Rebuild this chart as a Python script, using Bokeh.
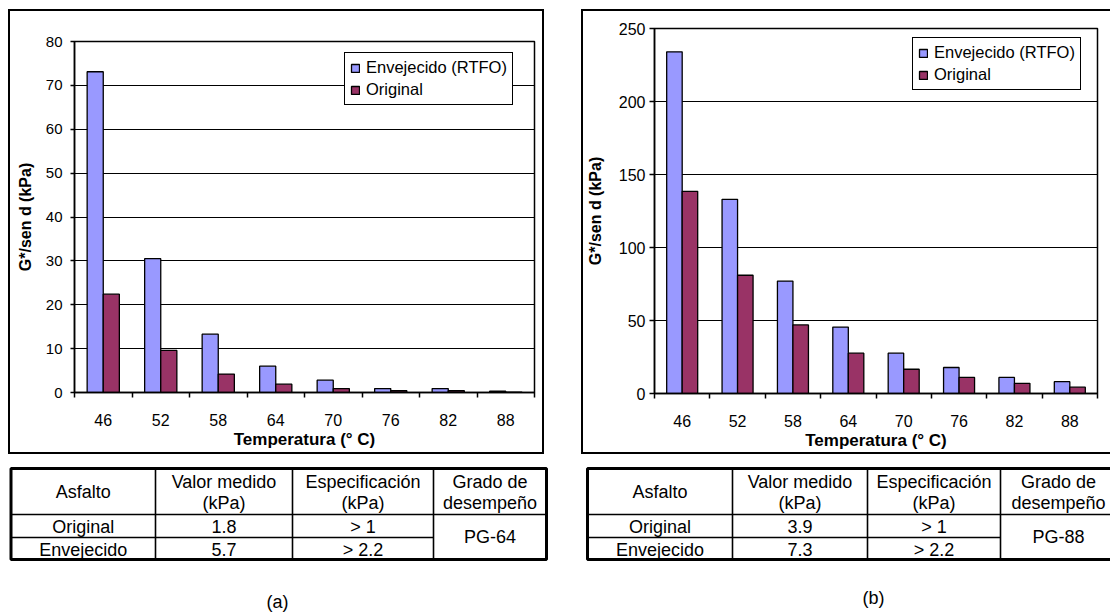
from bokeh.plotting import figure
from bokeh.models import (Range1d, FixedTicker, Legend, LegendItem,
                          ColumnDataSource, Spacer)
from bokeh.layouts import row, column
from bokeh.embed import file_html
from bokeh.resources import INLINE
from bokeh.core.properties import value

FONT = "Liberation Sans"

# ---------------- data ----------------
temperatures = ["46", "52", "58", "64", "70", "76", "82", "88"]

a_aged = [73.1, 30.5, 13.3, 6.0, 2.8, 0.9, 0.9, 0.3]
a_orig = [22.4, 9.6, 4.2, 1.9, 0.9, 0.4, 0.4, 0.1]

b_aged = [234.0, 133.0, 77.0, 45.5, 27.6, 17.8, 11.0, 8.1]
b_orig = [138.5, 81.0, 47.0, 27.6, 16.6, 11.0, 7.0, 4.3]

series_labels = ["Envejecido (RTFO)", "Original"]

table_header_l1 = ["Valor medido", "Especificación", "Grado de"]
table_header_l2 = ["(kPa)", "(kPa)", "desempeño"]
table_first_header = "Asfalto"
asphalts = ["Original", "Envejecido"]
specification = ["> 1", "> 2.2"]
a_measured = ["1.8", "5.7"]
b_measured = ["3.9", "7.3"]
a_grade = "PG-64"
b_grade = "PG-88"
captions = ["(a)", "(b)"]

AGED_COLOR = "#9999FF"
ORIG_COLOR = "#993366"


def chart(aged, orig, ymax, ystep, width, height, borders, legend_loc,
          ylab_size, ylab_standoff, ytick_out, ytitle_standoff):
    bl, br, bt, bb = borders
    n = len(temperatures)
    p = figure(width=width, height=height, x_range=Range1d(0, n),
               y_range=Range1d(0, ymax), output_backend="svg",
               toolbar_location=None, min_border_left=bl, min_border_right=br,
               min_border_top=bt, min_border_bottom=bb,
               styles={"outline": "2px solid black", "outline-offset": "0px"})
    p.background_fill_color = "white"
    p.border_fill_color = "white"

    src = ColumnDataSource(dict(
        xa=[i + 0.36 for i in range(n)], xo=[i + 0.64 for i in range(n)],
        aged=aged, orig=orig))
    ra = p.vbar(x="xa", top="aged", bottom=0, width=0.28, source=src,
                fill_color=AGED_COLOR, line_color="black", line_width=1.3)
    ro = p.vbar(x="xo", top="orig", bottom=0, width=0.28, source=src,
                fill_color=ORIG_COLOR, line_color="black", line_width=1.3)

    yt = list(range(0, ymax + 1, ystep))
    p.ygrid.ticker = FixedTicker(ticks=yt)
    p.ygrid.grid_line_color = "black"
    p.ygrid.grid_line_width = 1.2
    p.xgrid.visible = False
    p.outline_line_color = "black"
    p.outline_line_width = 1.5
    p.outline_line_alpha = 1

    xa = p.xaxis[0]
    xa.ticker = FixedTicker(ticks=[i + 0.5 for i in range(n)],
                            minor_ticks=list(range(n + 1)))
    xa.major_label_overrides = {i + 0.5: t for i, t in enumerate(temperatures)}
    xa.major_tick_line_color = None
    xa.major_tick_out = 0
    xa.major_tick_in = 0
    xa.minor_tick_line_color = "black"
    xa.minor_tick_line_width = 1.5
    xa.minor_tick_out = 5
    xa.minor_tick_in = 0
    xa.axis_line_color = "black"
    xa.axis_line_width = 1.5
    xa.major_label_text_font = FONT
    xa.major_label_text_font_size = "16px"
    xa.major_label_text_color = "black"
    xa.major_label_standoff = 16
    xa.axis_label = "Temperatura (° C)"
    xa.axis_label_text_font = FONT
    xa.axis_label_text_font_style = "bold"
    xa.axis_label_text_font_size = "17px"
    xa.axis_label_text_color = "black"
    xa.axis_label_standoff = 1

    ya = p.yaxis[0]
    ya.ticker = FixedTicker(ticks=yt)
    ya.minor_tick_line_color = None
    ya.major_tick_out = ytick_out
    ya.major_tick_in = 0
    ya.major_tick_line_color = "black"
    ya.major_tick_line_width = 1.5
    ya.axis_line_color = "black"
    ya.axis_line_width = 1.5
    ya.major_label_text_font = FONT
    ya.major_label_text_font_size = ylab_size
    ya.major_label_text_color = "black"
    ya.major_label_standoff = ylab_standoff
    ya.axis_label = "G*/sen d (kPa)"
    ya.axis_label_text_font = FONT
    ya.axis_label_text_font_style = "bold"
    ya.axis_label_text_font_size = "16px"
    ya.axis_label_text_color = "black"
    ya.axis_label_standoff = ytitle_standoff

    legend = Legend(items=[LegendItem(label=series_labels[0], renderers=[ra]),
                           LegendItem(label=series_labels[1], renderers=[ro])],
                    location=legend_loc)
    legend.label_text_font = FONT
    legend.label_text_font_size = "16.5px"
    legend.label_text_color = "black"
    legend.border_line_color = "black"
    legend.border_line_width = 1.5
    legend.border_line_alpha = 1
    legend.background_fill_color = "white"
    legend.background_fill_alpha = 1
    legend.padding = 5
    legend.spacing = 3
    legend.margin = 0
    legend.label_height = 19
    legend.glyph_height = 10
    legend.glyph_width = 10
    legend.label_standoff = 6
    p.add_layout(legend)
    return p


def bottom(width, cols, measured, grade, caption, cap_xy):
    H = 156
    p = figure(width=width, height=H, x_range=Range1d(0, width),
               y_range=Range1d(H, 0), output_backend="svg",
               toolbar_location=None, min_border=0,
               x_axis_location=None, y_axis_location=None)
    p.grid.visible = False
    p.outline_line_color = None
    p.background_fill_color = "white"
    p.border_fill_color = "white"

    x0, x1, x2, x3, x4 = cols
    yt, yh, ym, yb = 8, 54, 77, 99
    # inner lines
    p.segment(x0=[x0, x0, x1, x2, x3], y0=[yh, ym, yt, yt, yt],
              x1=[x4, x3, x1, x2, x3], y1=[yh, ym, yb, yb, yb],
              line_color="black", line_width=1.6)
    # outer border
    p.quad(left=[x0], right=[x4], top=[yt], bottom=[yb], fill_alpha=0,
           line_color="black", line_width=3)

    cx = [(x0 + x1) / 2, (x1 + x2) / 2, (x2 + x3) / 2, (x3 + x4) / 2]
    tf = dict(text_font=value(FONT), text_font_size="18px", text_color="black",
              text_align="center", text_baseline="middle")
    p.text(x=[cx[0]], y=[(yt + yh) / 2], text=[table_first_header], **tf)
    p.text(x=cx[1:], y=[21] * 3, text=table_header_l1, **tf)
    p.text(x=cx[1:], y=[42] * 3, text=table_header_l2, **tf)
    p.text(x=[cx[0]] * 2, y=[66, 89], text=asphalts, **tf)
    p.text(x=[cx[1]] * 2, y=[66, 89], text=measured, **tf)
    p.text(x=[cx[2]] * 2, y=[66, 89], text=specification, **tf)
    p.text(x=[cx[3]], y=[(yh + yb) / 2], text=[grade], **tf)
    p.text(x=[cap_xy[0]], y=[cap_xy[1]], text=[caption],
           text_font=value(FONT), text_font_size="18px", text_color="black",
           text_align="center", text_baseline="middle")
    return p


# chart A element occupies x 10..542, y 11..452 ; chart B x 583..1110, y 11..452
pa = chart(a_aged, a_orig, 80, 10, 532, 441, (64, 8, 30, 60),
           (270, 287), "15px", 8, 4, 9)
pb = chart(b_aged, b_orig, 250, 50, 527, 441, (66, 13, 17, 58),
           (258, 303), "16px", 4, 5, 12)

ba = bottom(562, (10.5, 155, 292, 433, 546), a_measured, a_grade,
            captions[0], (277, 141))
bb = bottom(548, (25, 170, 305, 438, 554), b_measured, b_grade,
            captions[1], (311, 137))

top_row = row(
    Spacer(width=10, height=460),
    column(Spacer(width=532, height=11), pa, Spacer(width=532, height=8)),
    Spacer(width=41, height=460),
    column(Spacer(width=527, height=11), pb, Spacer(width=527, height=8)),
)
bottom_row = row(column(ba), column(bb))
layout = column(top_row, bottom_row)

open("out.html", "w").write(file_html(layout, INLINE))
